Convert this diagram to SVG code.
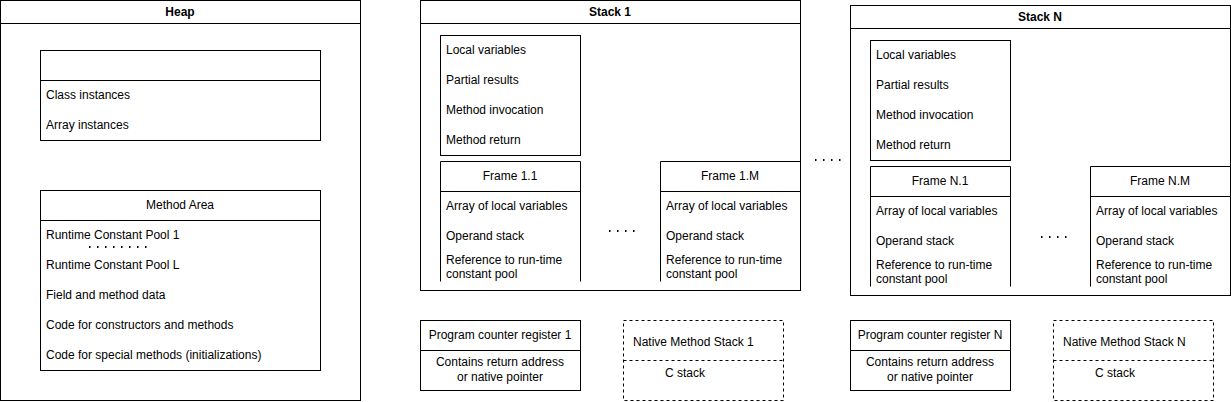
<svg xmlns="http://www.w3.org/2000/svg" width="1231" height="402" viewBox="0 0 1231 402">
<style>
.b{fill:#fff;stroke:#000;stroke-width:1}
.o{fill:none;stroke:#000;stroke-width:1}
.d{fill:none;stroke:#000;stroke-width:1;stroke-dasharray:3 3}
.t{font-family:"Liberation Sans",Arial,sans-serif;font-size:12px;fill:#000;dominant-baseline:central}
.h{font-weight:bold;text-anchor:middle}
.c{text-anchor:middle}
.dots{fill:none;stroke:#000;stroke-width:2;stroke-dasharray:1.5 6.5}
</style>
<rect width="1231" height="402" fill="#fff"/>
<g id="heap">
<rect class="b" x="0.5" y="0.5" width="360" height="400"/>
<line class="o" x1="0.5" y1="23.5" x2="360.5" y2="23.5"/>
<text class="t h" x="180" y="12">Heap</text>
</g>
<g id="instances">
<rect class="b" x="40.5" y="50.5" width="280" height="90"/>
<line class="o" x1="40.5" y1="80.5" x2="320.5" y2="80.5"/>
<text class="t" x="46" y="95">Class instances</text>
<text class="t" x="46" y="125">Array instances</text>
</g>
<g id="method-area">
<rect class="b" x="40.5" y="190.5" width="280" height="180"/>
<line class="o" x1="40.5" y1="220.5" x2="320.5" y2="220.5"/>
<text class="t c" x="180" y="205">Method Area</text>
<text class="t" x="46" y="235">Runtime Constant Pool 1</text>
<line class="dots" x1="89" y1="247" x2="152" y2="247"/>
<text class="t" x="46" y="265">Runtime Constant Pool L</text>
<text class="t" x="46" y="295">Field and method data</text>
<text class="t" x="46" y="325">Code for constructors and methods</text>
<text class="t" x="46" y="355">Code for special methods (initializations)</text>
</g>
<g id="stack1">
<rect class="b" x="420.5" y="0.5" width="380" height="290"/>
<line class="o" x1="420.5" y1="23.5" x2="800.5" y2="23.5"/>
<text class="t h" x="610" y="12">Stack 1</text>
</g>
<g id="stack1-locals">
<rect class="b" x="440.5" y="35.5" width="140" height="120"/>
<text class="t" x="446" y="50">Local variables</text>
<text class="t" x="446" y="80">Partial results</text>
<text class="t" x="446" y="110">Method invocation</text>
<text class="t" x="446" y="140">Method return</text>
</g>
<g id="frame-1-1">
<path class="o" d="M440.5 281.5V161.5H580.5V281.5M440.5 191.5H580.5"/>
<text class="t c" x="510" y="176">Frame 1.1</text>
<text class="t" x="446" y="206">Array of local variables</text>
<text class="t" x="446" y="236">Operand stack</text>
<text class="t" x="446" y="260">Reference to run-time</text>
<text class="t" x="446" y="274">constant pool</text>
</g>
<g id="frame-1-m">
<path class="o" d="M660.5 281.5V161.5H800.5V281.5M660.5 191.5H800.5"/>
<text class="t c" x="730" y="176">Frame 1.M</text>
<text class="t" x="666" y="206">Array of local variables</text>
<text class="t" x="666" y="236">Operand stack</text>
<text class="t" x="666" y="260">Reference to run-time</text>
<text class="t" x="666" y="274">constant pool</text>
</g>
<g id="stackN">
<rect class="b" x="850.5" y="5.5" width="380" height="290"/>
<line class="o" x1="850.5" y1="28.5" x2="1230.5" y2="28.5"/>
<text class="t h" x="1040" y="17">Stack N</text>
</g>
<g id="stackN-locals">
<rect class="b" x="870.5" y="40.5" width="140" height="120"/>
<text class="t" x="876" y="55">Local variables</text>
<text class="t" x="876" y="85">Partial results</text>
<text class="t" x="876" y="115">Method invocation</text>
<text class="t" x="876" y="145">Method return</text>
</g>
<g id="frame-n-1">
<path class="o" d="M870.5 286.5V166.5H1010.5V286.5M870.5 196.5H1010.5"/>
<text class="t c" x="940" y="181">Frame N.1</text>
<text class="t" x="876" y="211">Array of local variables</text>
<text class="t" x="876" y="241">Operand stack</text>
<text class="t" x="876" y="265">Reference to run-time</text>
<text class="t" x="876" y="279">constant pool</text>
</g>
<g id="frame-n-m">
<path class="o" d="M1090.5 286.5V166.5H1230.5V286.5M1090.5 196.5H1230.5"/>
<text class="t c" x="1160" y="181">Frame N.M</text>
<text class="t" x="1096" y="211">Array of local variables</text>
<text class="t" x="1096" y="241">Operand stack</text>
<text class="t" x="1096" y="265">Reference to run-time</text>
<text class="t" x="1096" y="279">constant pool</text>
</g>
<g id="pc1">
<rect class="b" x="420.5" y="320.5" width="160" height="70"/>
<line class="o" x1="420.5" y1="350.5" x2="580.5" y2="350.5"/>
<text class="t c" x="500" y="335">Program counter register 1</text>
<text class="t c" x="500" y="362">Contains return address</text>
<text class="t c" x="500" y="377">or native pointer</text>
</g>
<g id="native1">
<rect class="d" x="623.5" y="320.5" width="160" height="80"/>
<line class="d" x1="623.5" y1="360.5" x2="783.5" y2="360.5"/>
<text class="t" x="633" y="342">Native Method Stack 1</text>
<text class="t" x="665" y="373">C stack</text>
</g>
<g id="pcN">
<rect class="b" x="850.5" y="320.5" width="160" height="70"/>
<line class="o" x1="850.5" y1="350.5" x2="1010.5" y2="350.5"/>
<text class="t c" x="930" y="335">Program counter register N</text>
<text class="t c" x="930" y="362">Contains return address</text>
<text class="t c" x="930" y="377">or native pointer</text>
</g>
<g id="nativeN">
<rect class="d" x="1053.5" y="320.5" width="160" height="80"/>
<line class="d" x1="1053.5" y1="360.5" x2="1213.5" y2="360.5"/>
<text class="t" x="1063" y="342">Native Method Stack N</text>
<text class="t" x="1095" y="373">C stack</text>
</g>
<g id="connectors">
<line class="dots" x1="609" y1="231" x2="640" y2="231"/>
<line class="dots" x1="815" y1="160" x2="845" y2="160"/>
<line class="dots" x1="1041" y1="237" x2="1072" y2="237"/>
</g>
</svg>
